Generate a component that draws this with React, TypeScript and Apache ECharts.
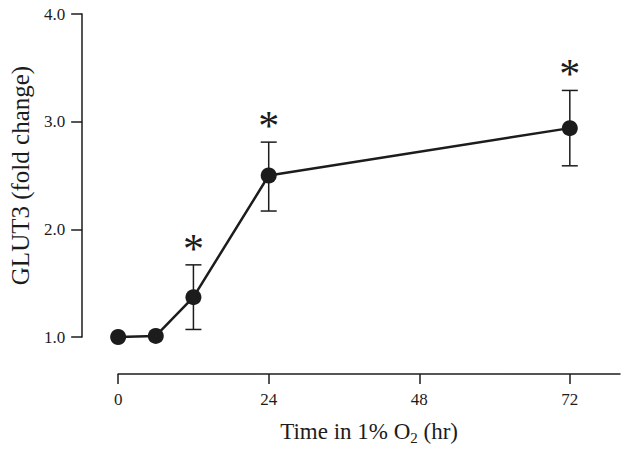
import React, { useEffect, useRef } from "react";
import * as echarts from "echarts";

const hours = [0, 6, 12, 24, 72];
const foldChange = [1.0, 1.01, 1.37, 2.5, 2.94];
const errLow = [null, null, 1.07, 2.17, 2.59];
const errHigh = [null, null, 1.67, 2.81, 3.29];
const significant = [false, false, true, true, true];
const xTicks = [0, 24, 48, 72];

const FONT = "Liberation Serif";
const INK = "#1c1c1c";

export default function App() {
  const ref = useRef<HTMLDivElement>(null);
  useEffect(() => {
    if (!ref.current) return;
    const chart = echarts.init(ref.current, undefined, { renderer: "svg" });
    const pts = hours.map((h, i) => [h, foldChange[i]]);
    const errData = hours
      .map((h, i) => [h, errLow[i], errHigh[i], significant[i] ? 1 : 0])
      .filter((d) => d[1] != null);
    chart.setOption({
      animation: false,
      backgroundColor: "#ffffff",
      grid: { left: 114, top: 14, width: 506, bottom: 111, containLabel: false },
      xAxis: {
        type: "value",
        min: 0,
        max: 80,
        interval: 24,
        offset: 37,
        splitLine: { show: false },
        axisLine: { show: true, onZero: false, lineStyle: { color: INK, width: 1.5 } },
        axisTick: { show: true, length: 10, inside: false, customValues: xTicks, lineStyle: { color: INK, width: 1.5 } },
        axisLabel: { customValues: xTicks, margin: 17, color: INK, fontFamily: FONT, fontSize: 17 },
        name: "Time in 1% O{sub|2} (hr)",
        nameLocation: "middle",
        nameGap: 44,
        nameTextStyle: {
          color: INK,
          fontFamily: FONT,
          fontSize: 23,
          rich: { sub: { fontFamily: FONT, fontSize: 15, color: INK, verticalAlign: "bottom", padding: [12, 0, 0, 0] } },
        },
      },
      yAxis: {
        type: "value",
        min: 1,
        max: 4,
        interval: 1,
        offset: 36,
        splitLine: { show: false },
        axisLine: { show: true, onZero: false, lineStyle: { color: INK, width: 1.5 } },
        axisTick: { show: true, length: 11, lineStyle: { color: INK, width: 1.5 } },
        axisLabel: {
          margin: 17,
          color: INK,
          fontFamily: FONT,
          fontSize: 17,
          formatter: (v: number) => v.toFixed(1),
        },
        name: "GLUT3 (fold change)",
        nameLocation: "middle",
        nameGap: 47,
        nameRotate: 90,
        nameTextStyle: { color: INK, fontFamily: FONT, fontSize: 25 },
      },
      series: [
        {
          type: "custom",
          z: 1,
          clip: false,
          data: errData,
          renderItem: (params: any, api: any) => {
            const x = api.value(0);
            const lo = api.coord([x, api.value(1)]);
            const hi = api.coord([x, api.value(2)]);
            const hw = 8;
            const st = { stroke: INK, lineWidth: 1.5 };
            const children: any[] = [
              { type: "line", shape: { x1: lo[0], y1: lo[1], x2: hi[0], y2: hi[1] }, style: st },
              { type: "line", shape: { x1: lo[0] - hw, y1: lo[1], x2: lo[0] + hw, y2: lo[1] }, style: st },
              { type: "line", shape: { x1: hi[0] - hw, y1: hi[1], x2: hi[0] + hw, y2: hi[1] }, style: st },
            ];
            if (api.value(3) === 1) {
              children.push({
                type: "text",
                style: {
                  text: "*",
                  x: hi[0],
                  y: hi[1] - 16,
                  align: "center",
                  verticalAlign: "middle",
                  fontFamily: FONT,
                  fontSize: 42,
                  fill: INK,
                },
              });
            }
            return { type: "group", children };
          },
        },
        {
          type: "line",
          z: 3,
          data: pts,
          clip: false,
          symbol: "circle",
          symbolSize: 16,
          lineStyle: { color: INK, width: 2.5 },
          itemStyle: { color: INK },
        },
      ],
    });
    return () => chart.dispose();
  }, []);
  return <div ref={ref} style={{ width: 629, height: 450, position: "absolute", left: 0, top: 0 }} />;
}
